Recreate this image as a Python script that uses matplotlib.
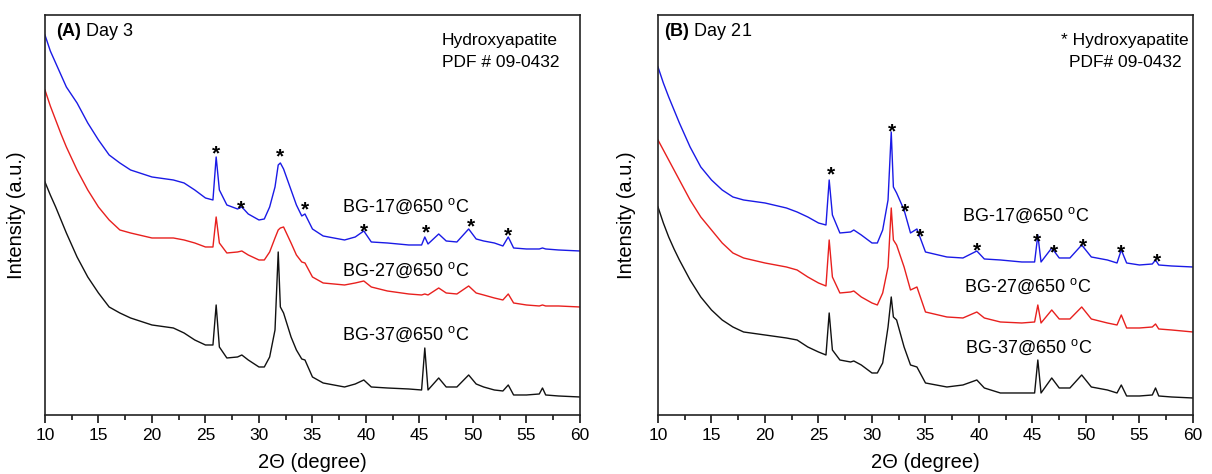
import matplotlib
matplotlib.use("Agg")
import matplotlib.pyplot as plt
from matplotlib.ticker import MultipleLocator

plt.rcParams['font.family'] = ['Liberation Sans', 'DejaVu Sans']
plt.rcParams['mathtext.fontset'] = 'custom'
plt.rcParams['mathtext.rm'] = 'Liberation Sans'
plt.rcParams['mathtext.bf'] = 'Liberation Sans:bold'

# 2-theta grid and intensities (arbitrary units)
tt_a = [10, 10.5, 11, 11.5, 12, 13, 14, 15, 16, 17, 18, 20, 22, 23, 24, 25, 25.7, 26.0, 26.3,
        27, 28, 28.4, 29, 30, 30.5, 31, 31.5, 31.8, 32.0, 32.3, 33, 33.5, 34.0,
        34.3, 35, 36, 38, 39, 39.8, 40.5, 42, 44, 45.2, 45.5, 45.8, 46.8, 47.5,
        48.5, 49.6, 50.3, 51, 52, 52.8, 53.3, 53.8, 55, 56.2, 56.5, 56.8, 58, 60]
a_bg17 = [380, 364, 352, 340, 328, 312, 292, 275, 260, 252, 245, 238, 235, 232, 225, 217, 215, 258, 225,
          210, 206, 208, 201, 195, 196, 208, 228, 250, 252, 246, 225, 210, 199,
          201, 186, 179, 175, 178, 184, 173, 172, 170, 170, 178, 171, 181, 174,
          173, 186, 176, 174, 172, 169, 178, 167, 166, 166, 167, 166, 165, 164]
a_bg27 = [325, 309, 295, 281, 268, 245, 225, 208, 195, 185, 182, 177, 177, 175, 172, 168, 168, 198, 172,
          162, 163, 164, 160, 155, 155, 163, 177, 185, 187, 188, 172, 160, 153,
          152, 138, 132, 130, 132, 134, 128, 124, 121, 120, 121, 120, 127, 122,
          121, 129, 122, 120, 117, 115, 121, 112, 110, 109, 110, 109, 109, 108]
a_bg37 = [233, 220, 208, 195, 182, 158, 138, 122, 108, 102, 97, 90, 87, 82, 75, 70, 70, 110, 68,
          57, 58, 60, 55, 48, 48, 58, 85, 163, 108, 102, 78, 65, 56,
          55, 38, 32, 28, 31, 35, 28, 27, 26, 25, 67, 25, 37, 28,
          28, 40, 31, 28, 25, 24, 30, 20, 20, 21, 27, 20, 19, 18]

tt_b = [10, 10.5, 11, 11.5, 12, 13, 14, 15, 16, 17, 18, 20, 22, 23, 24, 25, 25.7, 26.0, 26.3,
        27, 28, 28.3, 29, 30, 30.5, 31, 31.5, 31.8, 32.0, 32.3, 33, 33.6, 34.2,
        35, 37, 38.5, 39.8, 40.5, 42, 44, 45.2, 45.5, 45.8, 46.8, 47.5, 48.5,
        49.6, 50.5, 52, 52.9, 53.3, 53.8, 55, 56.2, 56.5, 56.8, 58, 60]
b_bg17 = [348, 332, 318, 305, 292, 268, 248, 235, 225, 218, 215, 212, 207, 203, 198, 192, 190, 235, 200,
          182, 183, 185, 180, 172, 172, 185, 215, 283, 228, 222, 205, 182, 186,
          163, 158, 157, 164, 156, 155, 153, 153, 180, 153, 167, 157, 157,
          170, 158, 155, 152, 165, 152, 150, 151, 155, 150, 149, 148]
b_bg27 = [275, 265, 255, 245, 235, 215, 198, 185, 172, 162, 157, 152, 148, 145, 138, 132, 129, 175, 138,
          122, 123, 124, 118, 112, 110, 122, 148, 207, 175, 170, 148, 125, 128,
          103, 98, 97, 103, 97, 93, 92, 93, 110, 92, 105, 96, 96,
          108, 96, 92, 90, 100, 87, 87, 88, 91, 86, 85, 83]
b_bg37 = [208, 192, 178, 166, 155, 135, 118, 105, 95, 88, 83, 80, 77, 75, 68, 63, 60, 102, 65,
          55, 53, 54, 50, 42, 42, 52, 88, 118, 98, 95, 68, 50, 48,
          32, 28, 30, 35, 27, 22, 22, 22, 55, 22, 37, 27, 27,
          40, 28, 25, 22, 30, 19, 19, 20, 27, 19, 18, 17]

# hydroxyapatite reflections marked with asterisks
star_a_x = [26.0, 28.3, 32.0, 34.3, 39.8, 45.6, 49.8, 53.3]
star_a_y = [268, 213, 265, 212, 190, 189, 195, 186]
star_b_x = [26.2, 31.9, 33.1, 34.5, 39.8, 45.4, 47.0, 49.7, 53.3, 56.6]
star_b_y = [247, 290, 210, 185, 171, 180, 169, 175, 169, 160]

samples = ['BG-17', 'BG-27', 'BG-37']
colors = ['#1a1ae6', '#e8201e', '#111111']
label_a = [(37.8, 209), (37.8, 145), (37.8, 81)]
label_b = [(38.4, 200), (38.6, 129), (38.7, 68)]

fig = plt.figure(figsize=(12.12, 4.74), dpi=100)
ax1 = fig.add_axes([0.0371, 0.1245, 0.4414, 0.8439])
ax2 = fig.add_axes([0.5429, 0.1245, 0.4414, 0.8439])

panels = [
    (ax1, tt_a, [a_bg17, a_bg27, a_bg37], star_a_x, star_a_y, label_a,
     r'$\mathbf{(A)}$ Day 3', 0.021, ['Hydroxyapatite', 'PDF # 09-0432'], [0.742, 0.742], 14),
    (ax2, tt_b, [b_bg17, b_bg27, b_bg37], star_b_x, star_b_y, label_b,
     r'$\mathbf{(B)}$ Day 21', 0.011, ['* Hydroxyapatite', 'PDF# 09-0432'], [0.753, 0.768], 16),
]

for ax, tt, ys, sx, sy, labpos, title, tx, ref, refx, ypad in panels:
    for y, c, s, (lx, ly) in zip(ys, colors, samples, labpos):
        ax.plot(tt, y, color=c, lw=1.0)
        ax.text(lx, ly, s + r'@650 $^{\mathrm{o}}$C', fontsize=13, ha='left', va='center')
    for x, y in zip(sx, sy):
        ax.annotate('*', (x, y), xytext=(0, -9), textcoords='offset points',
                    ha='center', va='baseline', fontsize=15, fontweight='bold')
    ax.text(tx, 0.958, title, transform=ax.transAxes, fontsize=13, ha='left', va='center')
    ax.text(refx[0], 0.937, ref[0], transform=ax.transAxes, fontsize=12.5, ha='left', va='center')
    ax.text(refx[1], 0.882, ref[1], transform=ax.transAxes, fontsize=12.5, ha='left', va='center')

    ax.set_xlim(10, 60)
    ax.set_ylim(0, 400)
    ax.xaxis.set_major_locator(MultipleLocator(5))
    ax.xaxis.set_minor_locator(MultipleLocator(2.5))
    ax.tick_params(axis='x', which='major', direction='out', length=6, width=1.1,
                   labelsize=12.5, top=False)
    ax.tick_params(axis='x', which='minor', direction='out', length=3.5, width=1.1, top=False)
    ax.set_yticks([])
    for sp in ax.spines.values():
        sp.set_linewidth(1.2)
        sp.set_color('#222222')
    ax.set_xlabel('2\u0398 (degree)', fontsize=14.5, labelpad=7)
    ax.set_ylabel('Intensity (a.u.)', fontsize=14.5, labelpad=ypad)

fig.savefig('out.png', dpi=100)
